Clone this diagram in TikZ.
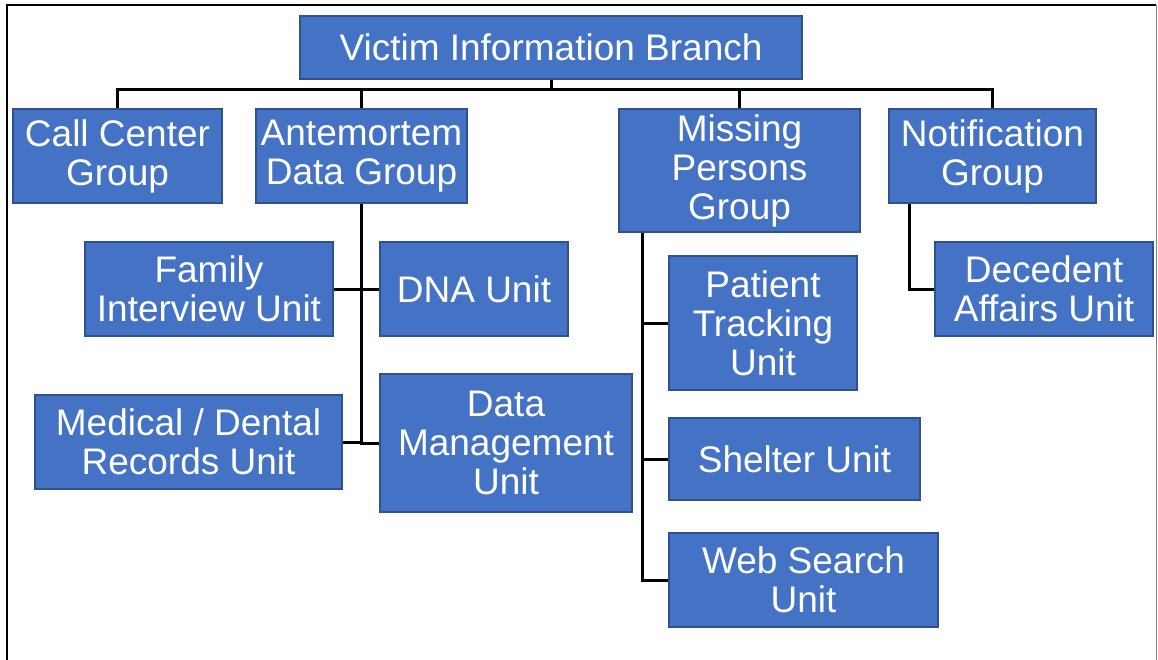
\documentclass[tikz,border=0pt]{standalone}
\usepackage{fontspec}
\setmainfont{Liberation Sans}
\usepackage{xcolor}
\usetikzlibrary{positioning}

\definecolor{boxfill}{HTML}{4472C4}
\definecolor{boxline}{HTML}{2F528F}

\tikzset{
  orgbox/.style={draw=boxline, line width=2pt, fill=boxfill, text=white,
    align=center, inner sep=0pt, font=\fontsize{37}{39}\selectfont},
  link/.style={draw=black, line width=3pt}
}

\begin{document}
\begin{tikzpicture}[x=1pt,y=1pt,yscale=-1,xscale=1]
\useasboundingbox (0,0) rectangle (1158,660);
% frame
\draw [line width=2pt] (7,660) -- (7,5) -- (1156,5) ;
\draw [color=gray, line width=1pt] (1156,5) -- (1156,660) ;
% top of the chart
\node [orgbox, minimum width=502pt, minimum height=63pt] (vib) at (551,47.5) {Victim Information Branch};
% groups
\node [orgbox, minimum width=209pt, minimum height=94pt] (ccg) at (117.5,156.5) {Call Center\\Group};
\node [orgbox, minimum width=211pt, minimum height=94pt] (adg) at (361.5,156.5) {Antemortem\\Data Group};
\node [orgbox, minimum width=241pt, minimum height=123pt] (mpg) at (739.5,171) {Missing\\Persons\\Group};
\node [orgbox, minimum width=207pt, minimum height=94pt] (ng) at (992.5,156.5) {Notification\\Group};
% antemortem units
\node [orgbox, minimum width=248pt, minimum height=94pt] (fiu) at (209,289) {Family\\Interview Unit};
\node [orgbox, minimum width=188pt, minimum height=94pt] (dna) at (474,289) {DNA Unit};
\node [orgbox, minimum width=307pt, minimum height=94pt] (mdr) at (188.5,442) {Medical / Dental\\Records Unit};
\node [orgbox, minimum width=252pt, minimum height=138pt] (dmu) at (506,443) {Data\\Management\\Unit};
% missing persons units
\node [orgbox, minimum width=188pt, minimum height=134pt] (ptu) at (763,323) {Patient\\Tracking\\Unit};
\node [orgbox, minimum width=251pt, minimum height=82pt] (shu) at (794.5,459) {Shelter Unit};
\node [orgbox, minimum width=269pt, minimum height=94pt] (wsu) at (803.5,580) {Web Search\\Unit};
% notification unit
\node [orgbox, minimum width=218pt, minimum height=94pt] (dau) at (1044,289) {Decedent\\Affairs Unit};
% connectors
\coordinate (bus) at (551,90);
\draw [link] (vib.south) -- (bus);
\draw [link] (ccg.north) |- (bus) -| (ng.north);
\draw [link] (adg.north) -- (adg.north |- bus);
\draw [link] (mpg.north) -- (mpg.north |- bus);
\draw [link] (adg.south) |- (dmu.west);
\draw [link] (fiu.east) -- (dna.west);
\draw [link] (mdr.east) -- (mdr.east -| adg.south);
\coordinate (mtrunk) at ([xshift=24pt]mpg.south west);
\draw [link] (mtrunk) |- (wsu.west);
\draw [link] (mtrunk |- ptu.west) -- (ptu.west);
\draw [link] (mtrunk |- shu.west) -- (shu.west);
\coordinate (ntrunk) at ([xshift=21pt]ng.south west);
\draw [link] (ntrunk) |- (dau.west);
\end{tikzpicture}
\end{document}
